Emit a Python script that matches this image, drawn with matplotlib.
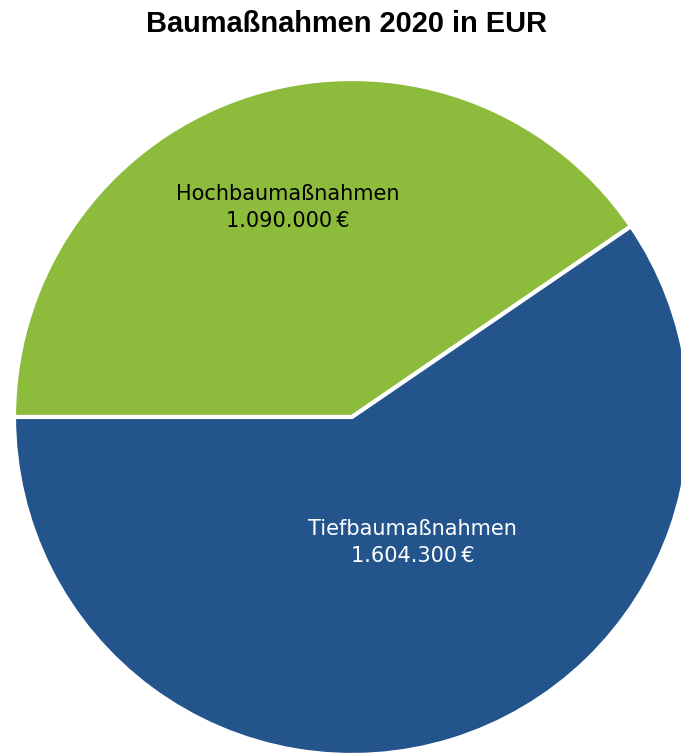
import matplotlib
matplotlib.use('Agg')
import matplotlib.pyplot as plt
from matplotlib import font_manager

# Daten
kategorien = ['Hochbaumaßnahmen', 'Tiefbaumaßnahmen']
betraege = [1090000, 1604300]
farben = ['#8DBB3C', '#23558C']
text_farben = ['black', 'white']

def euro(v):
    return f'{v:,.0f}'.replace(',', '.') + '\u2009€'

# normale (nicht schmale) Liberation Sans Bold fuer den Titel suchen
titel_font = None
for f in font_manager.fontManager.ttflist:
    if f.fname.endswith('LiberationSans-Bold.ttf'):
        titel_font = font_manager.FontProperties(fname=f.fname, size=20.9)
        break
if titel_font is None:
    titel_font = font_manager.FontProperties(family='DejaVu Sans', weight='bold', size=18)

fig = plt.figure(figsize=(6.81, 7.54), dpi=100)

# Kreis ragt rechts und unten aus dem Bild
ax = fig.add_axes([14 / 681, -1 / 754, 676 / 681, 676 / 754])
wedges, _ = ax.pie(betraege, colors=farben, startangle=180, counterclock=False,
                   radius=1.0, wedgeprops=dict(edgecolor='white', linewidth=3))
ax.set_xlim(-1, 1)
ax.set_ylim(-1, 1)
ax.set_aspect('equal')
ax.axis('off')

# Beschriftungen in den Segmenten
label_pos = [(-0.19, 0.62), (0.18, -0.372)]
for name, wert, pos, tc in zip(kategorien, betraege, label_pos, text_farben):
    ax.text(pos[0], pos[1], f'{name}\n{euro(wert)}', ha='center', va='center',
            fontsize=15, color=tc, family=['DejaVu Sans'], linespacing=1.45)

fig.text(347 / 681, 1 - 24 / 754, 'Baumaßnahmen 2020 in EUR', ha='center', va='center',
         fontproperties=titel_font)

fig.savefig('out.png', dpi=100)
